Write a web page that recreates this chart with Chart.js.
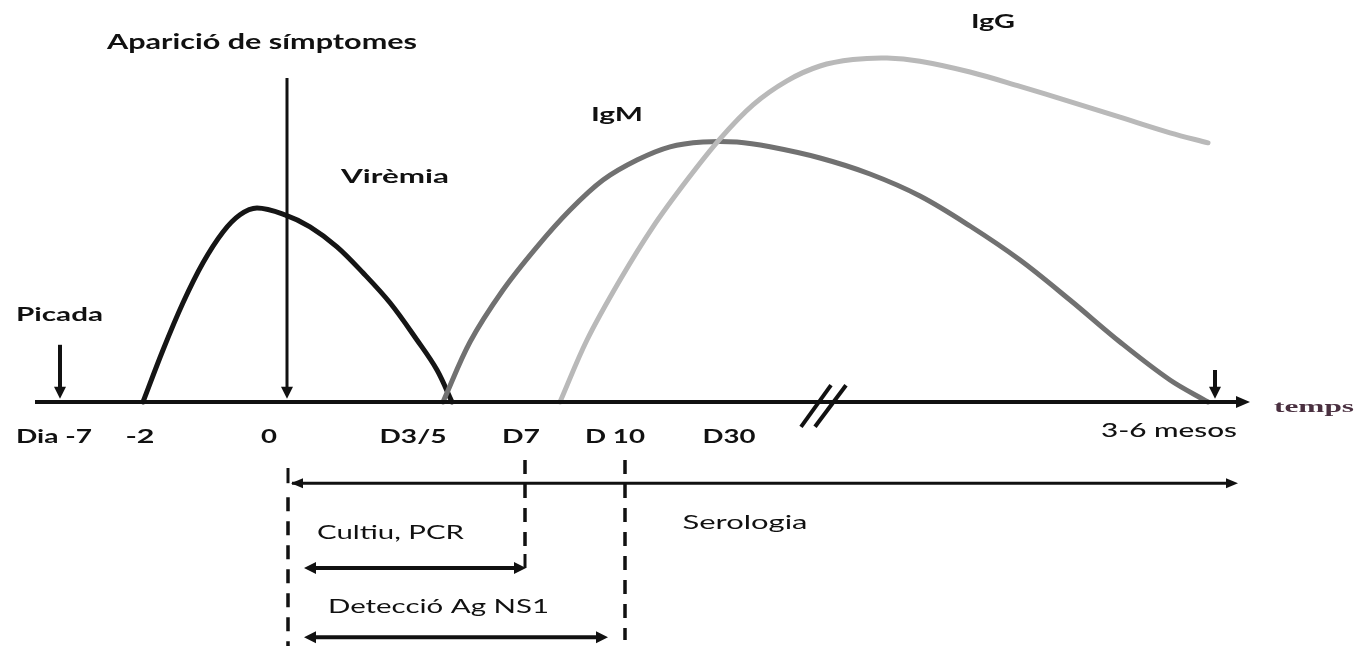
<!DOCTYPE html>
<html>
<head>
<meta charset="utf-8">
<script src="https://cdn.jsdelivr.net/npm/chart.js@4.4.0/dist/chart.umd.min.js"></script>
<style>
  html, body { margin: 0; padding: 0; background: #fff; }
  #wrap { width: 1357px; height: 646px; }
</style>
</head>
<body>
<div id="wrap"><canvas id="chart"></canvas></div>
<script>
// schematic time axis (not to scale), level 0 = time axis
const viremia = [[14.3, 0], [16.3, 13], [18.3, 24.8], [20.3, 34.8], [22.3, 42.5], [24, 46.8], [25.7, 48.5],
  [28.5, 46.8], [31, 43.8], [33.7, 38.8], [36.3, 32.3], [39, 24.8], [41.7, 15.5], [43.7, 8], [45.2, 0]];
const igm = [[44.3, 0], [47, 15], [50.3, 28], [53.7, 38.8], [57, 48], [60.3, 55.5], [63.7, 60.5], [67, 63.8],
  [70.3, 65], [73.7, 65], [77, 63.8], [82, 61], [87, 57], [92, 51.5], [97, 44], [102, 35.5], [107, 25.5],
  [112, 15], [117, 5.5], [120.8, 0]];
const igg = [[56, 0], [58.7, 15.5], [62, 30.5], [65.3, 43.8], [68.7, 55.5], [72, 65.8], [75.3, 74.3], [78.7, 80.3],
  [82, 84], [85.3, 85.6], [88.7, 86], [92, 85.2], [97, 82.5], [102, 78.9], [107, 75.1], [112, 71.2], [117, 67.3], [120.8, 64.8]];

const tickLabels = ['Dia -7', '-2', '0', 'D3/5', 'D7', 'D 10', 'D30', '3-6 mesos'];
const tickPos = [5.4, 14, 26.9, 41.3, 52.1, 61.5, 72.9, 116.9];

const eventLabels = ['Picada', 'Aparició de símptomes', ''];
const eventPos = [6.0, 28.7, 121.5];

const testLabels = ['Serologia', 'Cultiu, PCR', 'Detecció Ag NS1'];
const testStart = [28.8, 28.8, 28.8];
const testEnd = [123.8, 52.6, 60.8];

function fitText(ctx, text, cx, cy, w, font, color) {
  ctx.save();
  ctx.font = font;
  ctx.fillStyle = color || '#111';
  ctx.textAlign = 'center';
  ctx.textBaseline = 'middle';
  const m = ctx.measureText(text).width;
  ctx.translate(cx, cy);
  ctx.scale(w / m, 1);
  ctx.fillText(text, 0, 0);
  ctx.restore();
}

function line(ctx, x1, y1, x2, y2, lw, dash) {
  ctx.save();
  ctx.lineWidth = lw;
  ctx.strokeStyle = '#111';
  if (dash) ctx.setLineDash(dash);
  ctx.beginPath();
  ctx.moveTo(x1, y1);
  ctx.lineTo(x2, y2);
  ctx.stroke();
  ctx.restore();
}

function head(ctx, x, y, dir, len, half) {
  // dir: 'l','r','d'
  ctx.save();
  ctx.fillStyle = '#111';
  ctx.beginPath();
  if (dir === 'r') { ctx.moveTo(x, y); ctx.lineTo(x - len, y - half); ctx.lineTo(x - len, y + half); }
  if (dir === 'l') { ctx.moveTo(x, y); ctx.lineTo(x + len, y - half); ctx.lineTo(x + len, y + half); }
  if (dir === 'd') { ctx.moveTo(x, y); ctx.lineTo(x - half, y - len); ctx.lineTo(x + half, y - len); }
  ctx.closePath();
  ctx.fill();
  ctx.restore();
}

const schema = {
  id: 'schema',
  afterDatasetsDraw(chart) {
    const { ctx, scales: { x, y } } = chart;
    const px = v => x.getPixelForValue(v);
    const py = v => y.getPixelForValue(v);
    const y0 = py(0);

    // time axis
    line(ctx, px(3.5), y0, px(124), y0, 4);
    head(ctx, px(125), y0, 'r', 14, 6);
    fitText(ctx, 'temps', px(131.4), py(-1.3), 80, 'bold 17px "Liberation Serif"', '#4a3040');
    // axis break
    line(ctx, px(80.1), py(-6.2), px(83.1), py(4.2), 4);
    line(ctx, px(81.5), py(-6.2), px(84.6), py(4.2), 4);

    // tick labels
    const tickW = [76, 29, 16, 67, 38, 60, 53, 136];
    tickLabels.forEach((t, i) => {
      const last = i === tickLabels.length - 1;
      fitText(ctx, t, px(tickPos[i]), py(last ? -7.2 : -8.7), tickW[i],
        last ? '500 19px Lato' : 'bold 18px Lato');
    });

    // events
    const evTop = [14.3, 81, 8];
    const evLw = [4, 3, 4];
    eventPos.forEach((p, i) => {
      line(ctx, px(p), py(evTop[i]), px(p), py(2.5), evLw[i]);
      head(ctx, px(p), py(0.8), 'd', 12, 6);
    });
    fitText(ctx, eventLabels[0], px(5.95), py(21.8), 87, 'bold 18px Lato');
    fitText(ctx, eventLabels[1], px(26.2), py(90), 310, 'bold 21px Lato');

    // curve labels
    fitText(ctx, 'Virèmia', px(39.5), py(56.2), 108, 'bold 19px Lato');
    fitText(ctx, 'IgM', px(61.7), py(71.8), 52, 'bold 19px Lato');
    fitText(ctx, 'IgG', px(99.3), py(95), 44, 'bold 19px Lato');

    // test windows
    const ty = [-20.3, -41.5, -58.8];
    const dash = [14, 10];
    // dashed guides
    line(ctx, px(testStart[0]), py(-23.8), px(testStart[0]), py(-61), 3.5, dash);
    line(ctx, px(testEnd[1] - 0.1), py(-14.5), px(testEnd[1] - 0.1), py(-38), 3.5, dash);
    line(ctx, px(testEnd[2] + 1.7), py(-14.5), px(testEnd[2] + 1.7), py(-59.5), 3.5, dash);
    // serologia
    line(ctx, px(testStart[0]), py(-16.5), px(testStart[0]), py(ty[0]), 3);
    line(ctx, px(testStart[0] + 0.4), py(ty[0]), px(testEnd[0] - 1), py(ty[0]), 3);
    head(ctx, px(testStart[0] + 0.3), py(ty[0]), 'l', 12, 5);
    head(ctx, px(testEnd[0]), py(ty[0]), 'r', 12, 5);
    // cultiu and NS1
    line(ctx, px(testEnd[1] - 0.1), py(-38), px(testEnd[1] - 0.1), py(ty[1]), 3);
    [1, 2].forEach(i => {
      const a = px(testStart[i] + 1.6), b = px(testEnd[i]);
      line(ctx, a + 8, py(ty[i]), b - 8, py(ty[i]), 4);
      head(ctx, a, py(ty[i]), 'l', 12, 6);
      head(ctx, b, py(ty[i]), 'r', 12, 6);
    });
    fitText(ctx, testLabels[0], px(74.5), py(-30.3), 125, '19px Lato');
    fitText(ctx, testLabels[1], px(39.05), py(-32.8), 147, '19px Lato');
    fitText(ctx, testLabels[2], px(43.85), py(-51.3), 221, '19px Lato');
  }
};

const ctx = document.querySelector('#chart').getContext('2d');
const chart = new Chart(ctx, {
  type: 'line',
  data: {
    datasets: [
      { label: 'IgG', data: igg.map(p => ({ x: p[0], y: p[1] })), borderColor: '#b9b9b9' },
      { label: 'IgM', data: igm.map(p => ({ x: p[0], y: p[1] })), borderColor: '#717171' },
      { label: 'Virèmia', data: viremia.map(p => ({ x: p[0], y: p[1] })), borderColor: '#151515' }
    ]
  },
  options: {
    responsive: true,
    maintainAspectRatio: false,
    animation: false,
    layout: { padding: 0 },
    elements: {
      point: { radius: 0 },
      line: { borderWidth: 5, tension: 0.35, borderCapStyle: 'round', fill: false }
    },
    plugins: { legend: { display: false }, tooltip: { enabled: false } },
    scales: {
      x: { type: 'linear', min: 0, max: 135.7, display: false },
      y: { type: 'linear', min: -61, max: 100.5, display: false }
    }
  },
  plugins: [schema]
});
</script>
</body>
</html>
